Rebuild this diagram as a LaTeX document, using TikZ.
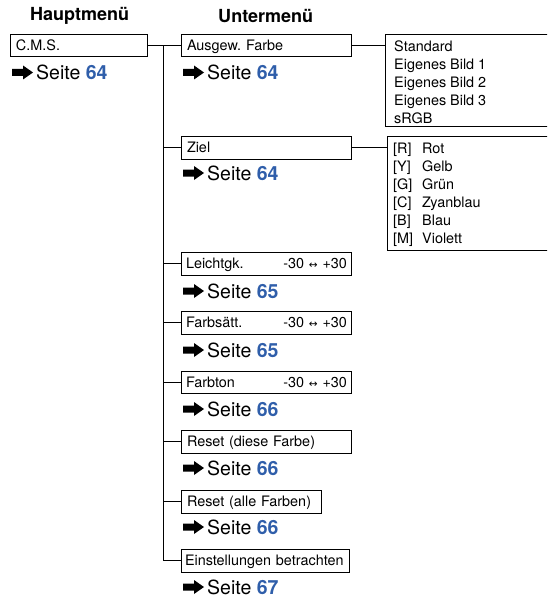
\documentclass[tikz,border=0pt]{standalone}
\usepackage{fontspec}
\setmainfont{TeX Gyre Heros}
\newfontfamily\symfont{DejaVu Sans}
\definecolor{pageblue}{RGB}{47,94,170}
\frenchspacing
\tikzset{
  menubox/.style={draw, line width=1pt, rectangle, anchor=north west, inner xsep=5.5pt, inner ysep=0pt,
    minimum height=22.5pt, text height=10.3pt, text depth=0pt, font=\fontsize{14.4}{16}\selectfont},
  listbox/.style={draw, line width=1pt, rectangle, anchor=north west, inner sep=0pt},
  listitem/.style={anchor=base west, inner sep=0pt, font=\fontsize{14.4}{16}\selectfont},
  headtext/.style={anchor=west, inner sep=0pt, font=\fontsize{18}{20}\selectfont\bfseries},
  seitetext/.style={anchor=west, inner sep=0pt, font=\fontsize{19.5}{22}\selectfont},
  conn/.style={line width=1pt},
  gopic/.pic={\fill (0,-3.5) -- (11,-3.5) -- (11,-7) -- (21,0) -- (11,7) -- (11,3.5) -- (0,3.5) -- cycle;}
}
\newcommand\seiteref[4]{% name, x, y, number
  \pic at (#2,#3) {gopic};
  \node[seitetext] (#1) at ([xshift=24pt]#2,#3) {Seite \textcolor{pageblue}{\bfseries #4}};
}
\newcommand\rng{-30 {\symfont\fontsize{10.5}{12}\selectfont ↔} +30}
\begin{document}
\begin{tikzpicture}[x=1pt,y=-1pt]
\useasboundingbox (0,0) rectangle (547,599);
\clip (0,0) rectangle (547,599);
% headers
\node[headtext] (hh) at (30,16) {Hauptmenü};
\node[headtext] (hu) at (218,16) {Untermenü};
% main
\node[menubox, minimum width=137pt, text width=126pt] (cms) at (10,34) {C.M.S.};
\seiteref{s0}{12}{72.5}{64}
\coordinate (tx) at (163.5,0);
% sub boxes
\node[menubox, minimum width=170pt, text width=159pt] (ausg) at (181,34) {Ausgew. Farbe};
\seiteref{s1}{183}{72.5}{64}
\node[menubox, minimum width=170pt, text width=159pt] (ziel) at (181,136) {Ziel};
\seiteref{s2}{183}{173}{64}
\node[menubox, minimum width=170pt, text width=161pt, inner xsep=4.5pt] (leicht) at (181,252) {Leichtgk.\hfill\rng};
\seiteref{s3}{183}{291}{65}
\node[menubox, minimum width=170pt, text width=161pt, inner xsep=4.5pt] (farbs) at (181,311) {Farbsätt.\hfill\rng};
\seiteref{s4}{183}{350}{65}
\node[menubox, minimum width=170pt, text width=161pt, inner xsep=4.5pt] (farbt) at (181,370.5) {Farbton\hfill\rng};
\seiteref{s5}{183}{409}{66}
\node[menubox, minimum width=170pt, text width=159pt] (res1) at (181,430) {Reset (diese Farbe)};
\seiteref{s6}{183}{468}{66}
\node[menubox, minimum width=140pt, text width=129pt] (res2) at (181,490) {Reset (alle Farben)};
\seiteref{s7}{183}{527}{66}
\node[menubox, minimum width=168pt, text width=161pt, inner xsep=3.5pt] (einst) at (181,549) {\mbox{Einstellungen betrachten}};
\seiteref{s8}{183}{587}{67}
% list boxes
\node[listbox, minimum width=180pt, minimum height=92pt] (l1) at (385,34) {};
\node[listitem] (l1a) at (394,51.5) {Standard};
\node[listitem] (l1b) at (394,69.5) {Eigenes Bild 1};
\node[listitem] (l1c) at (394,87.5) {Eigenes Bild 2};
\node[listitem] (l1d) at (394,105.5) {Eigenes Bild 3};
\node[listitem] (l1e) at (394,123.5) {sRGB};
\node[listbox, minimum width=180pt, minimum height=114pt] (l2) at (387,135.5) {};
\foreach \k/\c/\n in {0/R/Rot,1/Y/Gelb,2/G/Grün,3/C/Zyanblau,4/B/Blau,5/M/Violett}{
  \node[listitem] (l2c\k) at (393,153.5+18*\k) {[\c]};
  \node[listitem] (l2n\k) at (422,153.5+18*\k) {\n};
}
% connectors
\draw[conn] (cms.east) -- (ausg.west);
\draw[conn] (cms.east -| tx) |- (einst.west);
\foreach \b in {ziel,leicht,farbs,farbt,res1,res2}{
  \draw[conn] (\b.west -| tx) -- (\b.west);
}
\draw[conn] (ausg.east) -- (ausg.east -| l1.west);
\draw[conn] (ziel.east) -- (ziel.east -| l2.west);
\end{tikzpicture}
\end{document}
